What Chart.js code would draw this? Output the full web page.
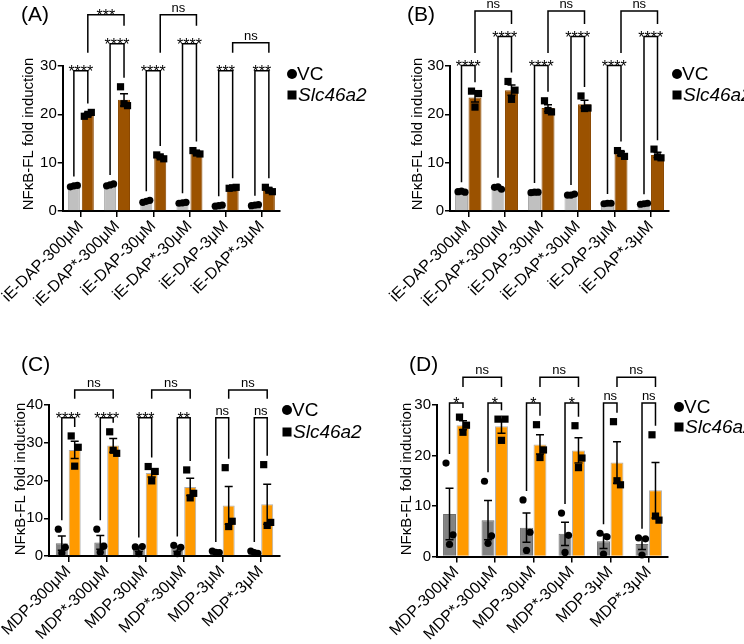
<!DOCTYPE html>
<html><head><meta charset="utf-8">
<script src="https://cdn.jsdelivr.net/npm/chart.js@4.4.0/dist/chart.umd.min.js"></script>
<style>
html,body{margin:0;padding:0;background:#fff;}
#wrap{position:relative;width:744px;height:644px;overflow:hidden;background:#fff;}
canvas{position:absolute;}
</style></head><body>
<div id="wrap">
<canvas id="cA" width="372" height="322" style="left:0;top:0"></canvas>
<canvas id="cB" width="372" height="322" style="left:372px;top:0"></canvas>
<canvas id="cC" width="372" height="322" style="left:0;top:322px"></canvas>
<canvas id="cD" width="372" height="322" style="left:372px;top:322px"></canvas>
</div>
<script>
// ---------------- DATA ----------------
const catsIE = ["iE-DAP-300μM", "iE-DAP*-300μM", "iE-DAP-30μM", "iE-DAP*-30μM", "iE-DAP-3μM", "iE-DAP*-3μM"];
const catsMDP = ["MDP-300μM", "MDP*-300μM", "MDP-30μM", "MDP*-30μM", "MDP-3μM", "MDP*-3μM"];
const seriesNames = ["VC", "Slc46a2"];
const yTitle = "NFκB-FL fold induction";
const crossPairs = [[0, 1], [2, 3], [4, 5]];

// Panel A
const A_vc = [5.2, 5.4, 2.0, 1.7, 1.1, 1.2];
const A_vcErr = [0.1, 0.12, 0.12, 0.06, 0.05, 0.06];
const A_vcPts = [[5.0, 5.3, 5.2], [5.2, 5.6, 5.4], [1.8, 2.2, 2.0], [1.6, 1.8, 1.7], [1.0, 1.2, 1.1], [1.1, 1.3, 1.2]];
const A_slc = [20.0, 23.0, 11.2, 12.1, 4.8, 4.4];
const A_slcErr = [0.3, 1.25, 0.25, 0.25, 0.05, 0.3];
const A_slcPts = [[19.6, 20.4, 20.0], [25.7, 21.8, 22.2], [11.6, 10.8, 11.2], [12.5, 11.8, 12.0], [4.7, 4.9, 4.8], [4.9, 4.0, 4.3]];
const A_pairLabels = ["****", "****", "****", "****", "***", "***"];
const A_pairLevels = [29.0, 34.6, 29.0, 34.6, 29.0, 29.0];
const A_crossLabels = ["***", "ns", "ns"];
const A_crossLevels = [40.6, 40.6, 34.8];

// Panel B
const B_vc = [4.0, 4.8, 3.9, 3.4, 1.6, 1.5];
const B_vcErr = [0.1, 0.15, 0.05, 0.1, 0.05, 0.05];
const B_vcPts = [[4.0, 3.9, 4.1], [4.9, 4.5, 5.0], [3.8, 3.9, 3.9], [3.3, 3.5, 3.3], [1.5, 1.6, 1.6], [1.4, 1.6, 1.5]];
const B_slc = [23.5, 25.0, 21.3, 22.1, 11.9, 11.6];
const B_slcErr = [0.95, 1.05, 0.7, 0.8, 0.35, 0.55];
const B_slcPts = [[24.8, 24.3, 21.5], [26.8, 25.0, 23.1], [22.8, 20.5, 20.8], [23.8, 21.3, 21.2], [12.5, 11.3, 11.9], [12.8, 11.0, 11.2]];
const B_pairLabels = ["****", "****", "****", "****", "****", "****"];
const B_pairLevels = [30.1, 36.1, 30.1, 36.1, 30.1, 36.1];
const B_crossLabels = ["ns", "ns", "ns"];
const B_crossLevels = [41.4, 41.4, 41.4];

// Panel C
const C_vc = [3.4, 3.6, 1.8, 1.9, 1.1, 0.95];
const C_vcErr = [1.9, 1.8, 0.6, 0.7, 0.15, 0.2];
const C_vcPts = [[7.1, 2.3, 0.8], [7.1, 2.6, 1.0], [2.4, 2.5, 0.6], [2.8, 2.3, 0.6], [1.3, 0.9, 1.0], [1.3, 0.7, 0.9]];
const C_slc = [28.1, 29.3, 22.0, 18.3, 13.4, 13.7];
const C_slcErr = [2.3, 1.8, 1.1, 2.3, 5.0, 5.3];
const C_slcPts = [[31.8, 28.8, 23.8], [32.9, 27.2, 28.0], [23.7, 22.4, 19.9], [22.8, 16.6, 15.4], [23.4, 9.2, 7.8], [24.2, 8.9, 8.1]];
const C_pairLabels = ["****", "****", "***", "**", "ns", "ns"];
const C_pairLevels = [36.6, 36.6, 36.6, 36.6, 36.6, 36.6];
const C_crossLabels = ["ns", "ns", "ns"];
const C_crossLevels = [44.0, 44.0, 44.0];

// Panel D
const D_vc = [8.4, 7.2, 5.7, 4.5, 3.0, 2.5];
const D_vcErr = [5.1, 3.9, 2.9, 2.3, 1.4, 1.1];
const D_vcPts = [[18.5, 4.3, 2.4], [14.9, 4.1, 2.6], [11.2, 4.8, 1.2], [8.6, 4.2, 0.8], [4.6, 3.9, 0.5], [3.7, 3.5, 0.3]];
const D_slc = [26.0, 25.8, 22.2, 21.0, 18.6, 13.1];
const D_slcErr = [0.9, 1.4, 1.9, 2.5, 4.1, 5.5];
const D_slcPts = [[27.6, 26.0, 24.6], [27.2, 27.2, 23.0], [26.1, 21.1, 19.6], [25.9, 19.5, 17.6], [26.7, 14.2, 15.0], [24.1, 7.2, 8.0]];
const D_pairLabels = ["*", "*", "*", "*", "ns", "ns"];
const D_pairLevels = [30.4, 30.4, 30.4, 30.4, 30.4, 30.4];
const D_crossLabels = ["ns", "ns", "ns"];
const D_crossLevels = [35.5, 35.5, 35.5];

// ---------------- DRAWING ----------------
const FONT = '"Liberation Sans", Arial, Helvetica, sans-serif';

function annot(p) {
  return {
    id: 'annot',
    afterDatasetsDraw(chart) {
      const ctx = chart.ctx, ys = chart.scales.y;
      const metas = [chart.getDatasetMeta(0), chart.getDatasetMeta(1)];
      ctx.save();
      ctx.strokeStyle = '#000'; ctx.lineWidth = 1.5;
      for (let s = 0; s < 2; s++) {
        for (let j = 0; j < p.vals[s].length; j++) {
          const x = metas[s].data[j].x;
          const v = p.vals[s][j], e = p.errs[s][j];
          const t = ys.getPixelForValue(v + e), b = ys.getPixelForValue(Math.max(0, v - e));
          ctx.beginPath();
          ctx.moveTo(x, t); ctx.lineTo(x, b);
          ctx.moveTo(x - 4, t); ctx.lineTo(x + 4, t);
          ctx.moveTo(x - 4, b); ctx.lineTo(x + 4, b);
          ctx.stroke();
        }
      }
      const jit = [-3.5, 3.5, 0];
      ctx.fillStyle = '#000';
      for (let s = 0; s < 2; s++) {
        for (let j = 0; j < p.pts[s].length; j++) {
          const x = metas[s].data[j].x;
          p.pts[s][j].forEach((v, k) => {
            const px = x + jit[k], py = ys.getPixelForValue(v);
            if (s === 0) { ctx.beginPath(); ctx.arc(px, py, 3.6, 0, Math.PI * 2); ctx.fill(); }
            else { ctx.fillRect(px - 3.6, py - 3.6, 7.2, 7.2); }
          });
        }
      }
      ctx.restore();
    },
    afterDraw(chart) {
      const ctx = chart.ctx, ys = chart.scales.y;
      const m0 = chart.getDatasetMeta(0), m1 = chart.getDatasetMeta(1);
      ctx.save();
      ctx.strokeStyle = '#000'; ctx.lineWidth = 1.5; ctx.fillStyle = '#000';
      const topOf = (s, j) => ys.getPixelForValue(Math.max(Math.max(...p.pts[s][j]), p.vals[s][j] + p.errs[s][j])) - 9;
      function label(txt, xc, yl) {
        ctx.textAlign = 'center';
        if (txt.indexOf('*') >= 0) {
          ctx.font = '16px ' + FONT; ctx.textBaseline = 'alphabetic';
          ctx.fillText(txt, xc, yl + 6.5);
        } else {
          ctx.font = '13px ' + FONT; ctx.textBaseline = 'alphabetic';
          ctx.fillText(txt, xc, yl - 3);
        }
      }
      // pair brackets
      for (let j = 0; j < p.pairLevels.length; j++) {
        const xl = m0.data[j].x, xr = m1.data[j].x, yl = ys.getPixelForValue(p.pairLevels[j]);
        ctx.beginPath();
        ctx.moveTo(xl, topOf(0, j)); ctx.lineTo(xl, yl); ctx.lineTo(xr, yl); ctx.lineTo(xr, topOf(1, j));
        ctx.stroke();
        label(p.pairLabels[j], (xl + xr) / 2, yl);
      }
      // cross brackets
      crossPairs.forEach((pr, i) => {
        const [a, b] = pr;
        const xl = m1.data[a].x, xr = m1.data[b].x, yl = ys.getPixelForValue(p.crossLevels[i]);
        const la = ys.getPixelForValue(p.pairLevels[a]) - p.crossGap;
        const lb = ys.getPixelForValue(p.pairLevels[b]) - p.crossGap;
        ctx.beginPath();
        ctx.moveTo(xl, la); ctx.lineTo(xl, yl); ctx.lineTo(xr, yl); ctx.lineTo(xr, lb);
        ctx.stroke();
        label(p.crossLabels[i], (xl + xr) / 2, yl);
      });
      // y axis title
      ctx.save();
      ctx.translate(p.titleX, p.titleY);
      ctx.rotate(-Math.PI / 2);
      ctx.font = '15px ' + FONT; ctx.textAlign = 'center'; ctx.textBaseline = 'middle';
      ctx.fillText(yTitle, 0, 0);
      ctx.restore();
      // panel label
      ctx.font = '21px ' + FONT; ctx.textAlign = 'left'; ctx.textBaseline = 'middle';
      ctx.fillText(p.panel, p.panelX, p.panelY);
      // legend
      const lx = p.legX;
      ctx.beginPath(); ctx.arc(lx + 5, p.legY1, 5, 0, Math.PI * 2); ctx.fill();
      ctx.font = '19px ' + FONT; ctx.textBaseline = 'middle';
      ctx.fillText(seriesNames[0], lx + 10, p.legY1 + 1);
      ctx.fillRect(lx + 0.5, p.legY2 - 4.5, 9, 9);
      ctx.font = 'italic 19px ' + FONT;
      ctx.fillText(seriesNames[1], lx + 11, p.legY2 + 1);
      ctx.restore();
    }
  };
}

function makeChart(id, p) {
  const tickFont = { family: FONT, size: 15 };
  return new Chart(document.getElementById(id), {
    type: 'bar',
    data: {
      labels: p.labels,
      datasets: [
        { label: seriesNames[0], data: p.vals[0], backgroundColor: p.colors[0], borderColor: p.borders[0], borderWidth: 1,
          categoryPercentage: p.cp, barPercentage: p.bp },
        { label: seriesNames[1], data: p.vals[1], backgroundColor: p.colors[1], borderColor: p.borders[1], borderWidth: 1,
          categoryPercentage: p.cp, barPercentage: p.bp }
      ]
    },
    options: {
      responsive: false, animation: false, devicePixelRatio: 1,
      layout: { padding: { left: 0, top: p.top, right: p.right, bottom: 0 } },
      plugins: { legend: { display: false }, tooltip: { enabled: false } },
      scales: {
        x: {
          grid: { offset: false, drawOnChartArea: false, color: '#000', lineWidth: 1.5, tickLength: 6 },
          border: { color: '#000', width: 2 },
          ticks: { color: '#000', font: { family: FONT, size: 16 }, minRotation: 45, maxRotation: 45, padding: 0, autoSkip: false },
          afterFit: s => { s.height = p.xh; }
        },
        y: {
          min: 0, max: p.ymax,
          ticks: { stepSize: 10, color: '#000', font: tickFont, padding: 1 },
          grid: { drawOnChartArea: false, color: '#000', lineWidth: 1.5, tickLength: 5 },
          border: { color: '#000', width: 2 },
          afterFit: s => { s.width = p.yw; }
        }
      }
    },
    plugins: [annot(p)]
  });
}

const brownSet = { colors: ['#c0c0c0', '#9b5200'], borders: ['#a9a9a9', '#8a4800'] };
const orangeSet = { colors: ['#828282', '#ff9a00'], borders: ['#6e6e6e', '#b0b0b0'] };

makeChart('cA', Object.assign({
  labels: catsIE, vals: [A_vc, A_slc], errs: [A_vcErr, A_slcErr], pts: [A_vcPts, A_slcPts],
  pairLabels: A_pairLabels, pairLevels: A_pairLevels, crossLabels: A_crossLabels, crossLevels: A_crossLevels,
  crossGap: 18, ymax: 30, top: 66, right: 92, xh: 111, yw: 62, cp: 0.77, bp: 0.86,
  titleX: 29, titleY: 134,
  panel: '(A)', panelX: 21, panelY: 15, legX: 287, legY1: 74, legY2: 95
}, brownSet));

makeChart('cB', Object.assign({
  labels: catsIE, vals: [B_vc, B_slc], errs: [B_vcErr, B_slcErr], pts: [B_vcPts, B_slcPts],
  pairLabels: B_pairLabels, pairLevels: B_pairLevels, crossLabels: B_crossLabels, crossLevels: B_crossLevels,
  crossGap: 12.5, ymax: 30, top: 66, right: 75, xh: 111, yw: 78, cp: 0.74, bp: 0.96,
  titleX: 46, titleY: 134,
  panel: '(B)', panelX: 35, panelY: 15, legX: 300, legY1: 74, legY2: 95
}, brownSet));

makeChart('cC', Object.assign({
  labels: catsMDP, vals: [C_vc, C_slc], errs: [C_vcErr, C_slcErr], pts: [C_vcPts, C_slcPts],
  pairLabels: C_pairLabels, pairLevels: C_pairLevels, crossLabels: C_crossLabels, crossLevels: C_crossLevels,
  crossGap: 19, ymax: 40, top: 83, right: 92, xh: 88, yw: 49, cp: 0.67, bp: 0.93,
  titleX: 21, titleY: 157,
  panel: '(C)', panelX: 21, panelY: 43, legX: 282, legY1: 88, legY2: 110
}, orangeSet));

makeChart('cD', Object.assign({
  labels: catsMDP, vals: [D_vc, D_slc], errs: [D_vcErr, D_slcErr], pts: [D_vcPts, D_slcPts],
  pairLabels: D_pairLabels, pairLevels: D_pairLevels, crossLabels: D_crossLabels, crossLevels: D_crossLevels,
  crossGap: 16, ymax: 30, top: 83, right: 76, xh: 87.5, yw: 65, cp: 0.70, bp: 0.96,
  titleX: 35, titleY: 157,
  panel: '(D)', panelX: 37, panelY: 43, legX: 302, legY1: 85, legY2: 105
}, orangeSet));
</script>
</body></html>
